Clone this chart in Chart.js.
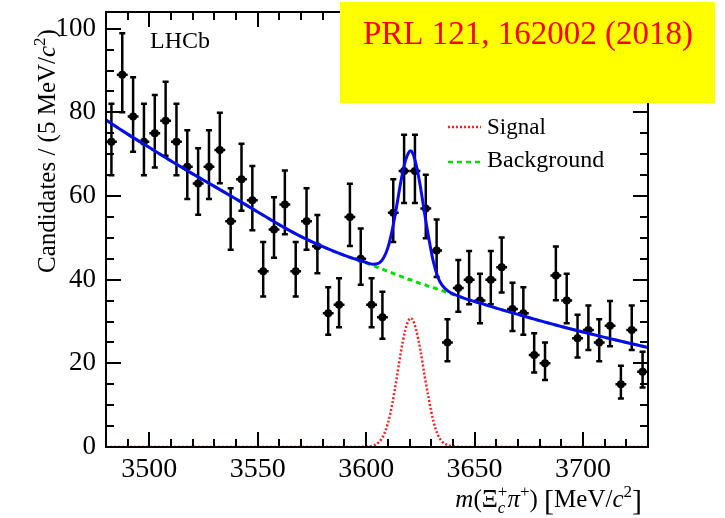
<!DOCTYPE html>
<html>
<head>
<meta charset="utf-8">
<script src="https://cdn.jsdelivr.net/npm/chart.js@4.4.0/dist/chart.umd.min.js"></script>
<style>
  body { margin: 0; background: #fff; }
  canvas { display: block; }
</style>
</head>
<body>
<canvas id="chart" width="725" height="518"></canvas>
<script>
// bin centres, 5 MeV bins
const binCenters = [3482.5, 3487.5, 3492.5, 3497.5, 3502.5, 3507.5, 3512.5, 3517.5, 3522.5, 3527.5,
                    3532.5, 3537.5, 3542.5, 3547.5, 3552.5, 3557.5, 3562.5, 3567.5, 3572.5, 3577.5,
                    3582.5, 3587.5, 3592.5, 3597.5, 3602.5, 3607.5, 3612.5, 3617.5, 3622.5, 3627.5,
                    3632.5, 3637.5, 3642.5, 3647.5, 3652.5, 3657.5, 3662.5, 3667.5, 3672.5, 3677.5,
                    3682.5, 3687.5, 3692.5, 3697.5, 3702.5, 3707.5, 3712.5, 3717.5, 3722.5, 3727.5];
const counts = [73, 89, 79, 73, 75, 78, 73, 67, 63, 67,
                71, 54, 64, 59, 42, 52, 58, 42, 54, 48,
                32, 34, 55, 45, 34, 31, 56, 66, 66, 57,
                47, 25, 38, 40, 35, 40, 43, 33, 32, 22,
                20, 41, 35, 26, 28, 25, 29, 15, 28, 18];

// fit curves
const fitMass = [3480, 3490, 3500, 3510, 3520, 3530, 3540, 3550, 3560, 3570, 3580, 3590, 3595,
                 3600, 3603, 3606, 3608, 3610, 3612, 3614, 3616, 3618, 3619.5, 3620.5, 3621.5,
                 3623, 3625, 3627, 3629, 3631, 3633, 3635, 3638, 3641, 3645, 3650,
                 3660, 3670, 3680, 3690, 3700, 3710, 3720, 3730];
const bkgFit = [78.2, 74.8, 71.6, 68.4, 65.3, 62.3, 59.3, 56.2, 53.1, 50.3, 47.9, 45.8, 44.9,
                44.0, 43.4, 42.8, 42.4, 42.0, 41.6, 41.2, 40.8, 40.4, 40.1, 40.0, 39.8,
                39.5, 39.1, 38.8, 38.4, 38.1, 37.7, 37.4, 36.8, 36.3, 35.6, 34.8,
                33.2, 31.7, 30.2, 28.8, 27.5, 26.2, 25.0, 23.8];
const sigFit = [0, 0, 0, 0, 0, 0, 0, 0, 0, 0, 0, 0, 0,
                0.1, 0.3, 1.2, 2.8, 5.6, 10.2, 16.2, 22.6, 27.9, 30.2, 30.8, 30.4,
                28.1, 23.2, 16.9, 11.2, 6.2, 3.0, 1.3, 0.4, 0.1, 0, 0,
                0, 0, 0, 0, 0, 0, 0, 0];

const xTicks = [3500, 3550, 3600, 3650, 3700];
const yTicks = [0, 20, 40, 60, 80, 100];
const xMinorStep = 10;
const yMinorStep = 5;

const serif = '"Liberation Serif", "Times New Roman", serif';

// poisson-ish error bars from the counts
const errUp = counts.map(n => 0.5 + Math.sqrt(n + 0.25));
const errDn = counts.map(n => -0.5 + Math.sqrt(n + 0.25));

function layoutPieces(ctx, pieces, base) {
  let w = 0, prevW = 0;
  const items = [];
  pieces.forEach(p => {
    const font = (p.it ? 'italic ' : '') + (p.size || base) + 'px ' + serif;
    ctx.font = font;
    const pw = ctx.measureText(p.t).width;
    if (p.stack) {
      const x0 = w - prevW;
      items.push({ p, font, x: x0 });
      const m = Math.max(prevW, pw);
      w = x0 + m;
      prevW = m;
    } else {
      items.push({ p, font, x: w });
      w += pw;
      prevW = pw;
    }
  });
  return { items, w };
}

function drawPieces(ctx, lay, x, y) {
  lay.items.forEach(it => {
    ctx.font = it.font;
    ctx.fillText(it.p.t, x + it.x, y + (it.p.dy || 0));
  });
}

const errorBars = {
  id: 'errorBars',
  beforeDatasetsDraw(chart) {
    const { ctx, scales: { x, y } } = chart;
    ctx.save();
    ctx.strokeStyle = '#000';
    ctx.lineWidth = 2.5;
    binCenters.forEach((m, i) => {
      const px = x.getPixelForValue(m);
      const py = y.getPixelForValue(counts[i]);
      const top = y.getPixelForValue(counts[i] + errUp[i]);
      const bot = y.getPixelForValue(counts[i] - errDn[i]);
      ctx.beginPath();
      ctx.moveTo(px, top); ctx.lineTo(px, bot);
      ctx.moveTo(px - 3, top); ctx.lineTo(px + 3, top);
      ctx.moveTo(px - 3, bot); ctx.lineTo(px + 3, bot);
      ctx.moveTo(x.getPixelForValue(m - 2.5), py); ctx.lineTo(x.getPixelForValue(m + 2.5), py);
      ctx.stroke();
    });
    ctx.restore();
  }
};

const decor = {
  id: 'decor',
  afterDraw(chart) {
    const { ctx, chartArea: a } = chart;
    const xs = chart.scales.x, ys = chart.scales.y;
    ctx.save();
    // frame
    ctx.fillStyle = '#000';
    ctx.fillRect(a.left - 1, a.top - 1, a.right - a.left + 2, 2);
    ctx.fillRect(a.left - 1, a.bottom - 1, a.right - a.left + 2, 2);
    ctx.fillRect(a.left - 1, a.top - 1, 2, a.bottom - a.top + 2);
    ctx.fillRect(a.right - 1, a.top - 1, 2, a.bottom - a.top + 2);

    // inward ticks on all four sides
    for (let v = xs.min + xMinorStep; v < xs.max; v += xMinorStep) {
      const px = Math.round(xs.getPixelForValue(v));
      const len = xTicks.includes(v) ? 15 : 8;
      ctx.fillRect(px - 1, a.bottom - len, 2, len);
      ctx.fillRect(px - 1, a.top, 2, len);
    }
    for (let v = ys.min + yMinorStep; v < ys.max; v += yMinorStep) {
      const py = Math.round(ys.getPixelForValue(v));
      const len = yTicks.includes(v) ? 15 : 8;
      ctx.fillRect(a.left, py - 1, len, 2);
      ctx.fillRect(a.right - len, py - 1, len, 2);
    }

    ctx.textAlign = 'left';
    ctx.textBaseline = 'alphabetic';

    // x title
    const xt = layoutPieces(ctx, [
      { t: 'm', it: true }, { t: '(' }, { t: '\u039E' },
      { t: 'c', it: true, size: 17, dy: 6 }, { t: '+', size: 17, dy: -10, stack: true },
      { t: '\u03C0', it: true }, { t: '+', size: 17, dy: -10 }, { t: ')' }, { t: ' ' },
      { t: '[', size: 30, dy: 3 }, { t: 'MeV/' }, { t: 'c', it: true },
      { t: '2', size: 17, dy: -10 }, { t: ']', size: 30, dy: 3 }
    ], 25);
    drawPieces(ctx, xt, 642 - xt.w, 507);

    // y title
    const yt = layoutPieces(ctx, [
      { t: 'Candidates / (5 MeV/' }, { t: 'c', it: true },
      { t: '2', size: 17, dy: -10 }, { t: ')' }
    ], 25);
    ctx.save();
    ctx.translate(55, 151);
    ctx.rotate(-Math.PI / 2);
    drawPieces(ctx, yt, -yt.w / 2, 0);
    ctx.restore();

    // LHCb label
    ctx.font = '24px ' + serif;
    ctx.fillText('LHCb', 150, 48);

    // legend
    ctx.lineWidth = 2.5;
    ctx.setLineDash([2, 2]);
    ctx.strokeStyle = '#ff2020';
    ctx.beginPath(); ctx.moveTo(448, 127); ctx.lineTo(481, 127); ctx.stroke();
    ctx.setLineDash([5, 4]);
    ctx.strokeStyle = '#00e000';
    ctx.beginPath(); ctx.moveTo(448, 162); ctx.lineTo(481, 162); ctx.stroke();
    ctx.setLineDash([]);
    ctx.font = '23px ' + serif;
    ctx.fillText('Signal', 487, 134);
    ctx.font = '24px ' + serif;
    ctx.fillText('Background', 487, 167);

    // reference box
    ctx.fillStyle = '#ffff00';
    ctx.fillRect(340, 2, 375, 101);
    ctx.fillStyle = '#ff0000';
    ctx.font = '33px ' + serif;
    ctx.textAlign = 'center';
    ctx.fillText('PRL 121, 162002 (2018)', 528, 44);
    ctx.restore();
  }
};

const ctx = document.getElementById('chart').getContext('2d');
const chart = new Chart(ctx, {
  type: 'scatter',
  data: {
    datasets: [
      {
        label: 'Data',
        data: binCenters.map((m, i) => ({ x: m, y: counts[i] })),
        pointRadius: 4,
        pointBackgroundColor: '#000',
        pointBorderWidth: 0,
        showLine: false,
        order: 3
      },
      {
        label: 'Background',
        type: 'line',
        data: fitMass.map((m, i) => ({ x: m, y: bkgFit[i] })),
        borderColor: '#00e000',
        borderWidth: 3,
        borderDash: [5, 4],
        pointRadius: 0,
        cubicInterpolationMode: 'monotone',
        order: 2
      },
      {
        label: 'Signal',
        type: 'line',
        data: fitMass.map((m, i) => ({ x: m, y: sigFit[i] })),
        borderColor: '#ff2020',
        borderWidth: 2.5,
        borderDash: [2, 2],
        pointRadius: 0,
        cubicInterpolationMode: 'monotone',
        order: 1
      },
      {
        label: 'Total',
        type: 'line',
        data: fitMass.map((m, i) => ({ x: m, y: bkgFit[i] + sigFit[i] })),
        borderColor: '#0a0af0',
        borderWidth: 3,
        pointRadius: 0,
        cubicInterpolationMode: 'monotone',
        order: 0
      }
    ]
  },
  options: {
    responsive: false,
    animation: false,
    layout: { padding: { top: 12, right: 77, left: 0, bottom: 0 } },
    plugins: { legend: { display: false }, tooltip: { enabled: false } },
    scales: {
      x: {
        type: 'linear',
        min: 3480,
        max: 3730,
        grid: { display: false, drawTicks: false },
        border: { display: false },
        afterBuildTicks: (s) => { s.ticks = xTicks.map(v => ({ value: v })); },
        afterFit: (s) => { s.height = 71; s.paddingLeft = 0; s.paddingRight = 0; },
        ticks: {
          color: '#000',
          padding: 6,
          maxRotation: 0,
          font: { family: serif, size: 28 },
          callback: (v) => String(v)
        }
      },
      y: {
        min: 0,
        max: 104,
        grid: { display: false, drawTicks: false },
        border: { display: false },
        afterBuildTicks: (s) => { s.ticks = yTicks.map(v => ({ value: v })); },
        afterFit: (s) => { s.width = 106; s.paddingTop = 0; s.paddingBottom = 0; },
        ticks: {
          color: '#000',
          padding: 10,
          font: { family: serif, size: 27 },
          callback: (v) => String(v)
        }
      }
    }
  },
  plugins: [errorBars, decor]
});
</script>
</body>
</html>
